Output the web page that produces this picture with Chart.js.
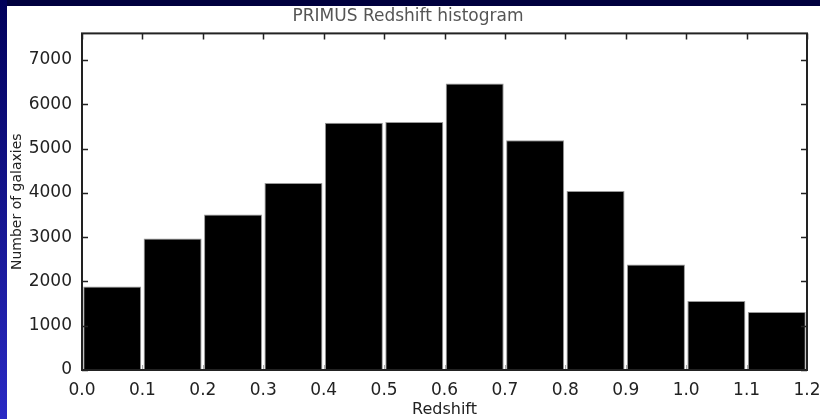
<!DOCTYPE html>
<html>
<head>
<meta charset="utf-8">
<script src="https://cdn.jsdelivr.net/npm/chart.js@4.4.1/dist/chart.umd.min.js"></script>
<style>
  html, body { margin: 0; padding: 0; }
  body { width: 820px; height: 419px; background: #00003e; position: relative; overflow: hidden; }
  #edge { position: absolute; left: 0; top: 0; width: 7px; height: 419px; background: linear-gradient(to bottom, #00005a, #2a2ac4); }
  #panel { position: absolute; left: 7px; top: 6px; width: 813px; height: 413px; background: #fff; }
</style>
</head>
<body>
<div id="edge"></div>
<div id="panel"><canvas id="histChart" width="813" height="413"></canvas></div>
<script>
// histogram bins (lower edges) and counts
const binStarts = [0.0, 0.1, 0.2, 0.3, 0.4, 0.5, 0.6, 0.7, 0.8, 0.9, 1.0, 1.1];
const galaxyCounts = [1885, 2970, 3510, 4220, 5580, 5600, 6470, 5190, 4040, 2380, 1560, 1310];
const binWidth = 0.1;
const xTicks = [0.0, 0.1, 0.2, 0.3, 0.4, 0.5, 0.6, 0.7, 0.8, 0.9, 1.0, 1.1, 1.2];
const yTicks = [0, 1000, 2000, 3000, 4000, 5000, 6000, 7000];
const yMax = 7600;

const font = 'DejaVu Sans';

// box round the plot, with inward ticks on all four sides
const frameTicks = {
    id: 'frameTicks',
    afterDatasetsDraw(chart) {
        const { ctx, chartArea: a, scales: { x, y } } = chart;
        ctx.save();
        ctx.lineWidth = 1.5;
        ctx.strokeStyle = '#222';
        ctx.beginPath();
        x.ticks.forEach(t => {
            const px = Math.round(x.getPixelForValue(t.value)) + 0.5;
            ctx.moveTo(px, a.top);
            ctx.lineTo(px, a.top + 6);
        });
        y.ticks.forEach(t => {
            const py = Math.round(y.getPixelForValue(t.value)) + 0.5;
            ctx.moveTo(a.left, py);
            ctx.lineTo(a.left + 6, py);
            ctx.moveTo(a.right, py);
            ctx.lineTo(a.right - 6, py);
        });
        ctx.stroke();
        ctx.strokeStyle = '#aaa';
        ctx.lineWidth = 1;
        ctx.beginPath();
        x.ticks.forEach(t => {
            const px = Math.round(x.getPixelForValue(t.value)) + 0.5;
            ctx.moveTo(px, a.bottom);
            ctx.lineTo(px, a.bottom - 5);
        });
        ctx.stroke();
        ctx.strokeStyle = '#222';
        ctx.lineWidth = 2;
        ctx.strokeRect(a.left, a.top, a.right - a.left, a.bottom - a.top);
        ctx.restore();
    }
};

const ctx = document.getElementById('histChart').getContext('2d');
new Chart(ctx, {
    type: 'bar',
    data: {
        datasets: [{
            label: 'Number of galaxies',
            data: binStarts.map((b, i) => ({ x: b + binWidth / 2, y: galaxyCounts[i] })),
            backgroundColor: '#000',
            borderColor: '#999',
            borderWidth: 1,
            barPercentage: 1,
            categoryPercentage: 0.96
        }]
    },
    options: {
        responsive: false,
        animation: false,
        layout: { padding: { left: 2, right: 13, top: 0, bottom: 0 } },
        plugins: {
            legend: { display: false },
            tooltip: { enabled: false },
            title: {
                display: true,
                text: 'PRIMUS Redshift histogram',
                color: '#555',
                font: { family: font, size: 17, weight: 'normal' },
                padding: { top: 0, bottom: 7 }
            }
        },
        scales: {
            x: {
                type: 'linear',
                min: 0,
                max: 1.2,
                offset: false,
                grid: { display: false, drawTicks: false, offset: false },
                border: { display: false },
                ticks: {
                    autoSkip: false,
                    maxRotation: 0,
                    padding: 10,
                    color: '#222',
                    font: { family: font, size: 17 },
                    callback: v => v.toFixed(1)
                },
                title: {
                    display: true,
                    text: 'Redshift',
                    color: '#222',
                    font: { family: font, size: 16 },
                    padding: 0
                },
                afterBuildTicks(scale) {
                    scale.ticks = xTicks.map(v => ({ value: v }));
                },
                afterFit(scale) {
                    scale.height = 49;
                    scale.paddingLeft = 0;
                    scale.paddingRight = 0;
                }
            },
            y: {
                min: 0,
                max: yMax,
                grid: { display: false, drawTicks: false },
                border: { display: false },
                ticks: {
                    autoSkip: false,
                    padding: 10,
                    color: '#222',
                    font: { family: font, size: 17 },
                    callback: v => String(v)
                },
                title: {
                    display: true,
                    text: 'Number of galaxies',
                    color: '#222',
                    font: { family: font, size: 14 },
                    padding: 0
                },
                afterBuildTicks(scale) {
                    scale.ticks = yTicks.map(v => ({ value: v }));
                },
                afterFit(scale) {
                    scale.width = 73;
                    scale.paddingTop = 0;
                    scale.paddingBottom = 0;
                }
            }
        }
    },
    plugins: [frameTicks]
});
</script>
</body>
</html>
